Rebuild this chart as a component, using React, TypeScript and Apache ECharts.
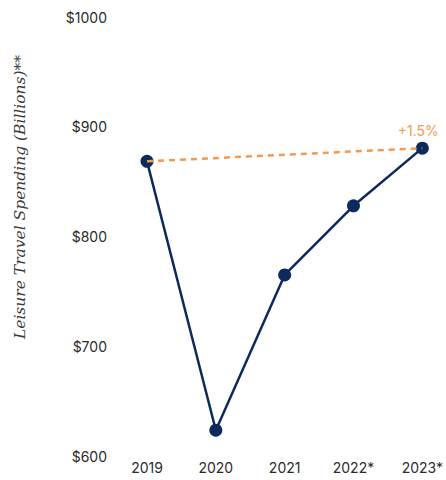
import React, { useEffect, useRef } from "react";
import * as echarts from "echarts";

const categories = ["2019", "2020", "2021", "2022*", "2023*"];
const spending = [868.5, 623.5, 765, 828, 880.5];
const trend = [868.5, null, null, null, 880.5];
const trendLabel = "+1.5%";
const yTicks = { min: 600, max: 1000, interval: 100 };
const yTitle = "Leisure Travel Spending (Billions)**";

export default function App() {
  const ref = useRef<HTMLDivElement>(null);
  useEffect(() => {
    const chart = echarts.init(ref.current!, null, { renderer: "svg" });
    chart.setOption({
      animation: false,
      grid: { left: 147, right: 19, top: 17, bottom: 24, containLabel: false },
      xAxis: {
        type: "category",
        data: categories,
        boundaryGap: false,
        axisLine: { show: false },
        axisTick: { show: false },
        splitLine: { show: false },
        axisLabel: { color: "#2b2b2b", fontSize: 14, fontFamily: "Inter", margin: 4 },
      },
      yAxis: {
        type: "value",
        min: yTicks.min,
        max: yTicks.max,
        interval: yTicks.interval,
        axisLine: { show: false },
        axisTick: { show: false },
        splitLine: { show: false },
        axisLabel: {
          color: "#2b2b2b",
          fontSize: 14,
          fontFamily: "Inter",
          margin: 40,
          formatter: (v: number) => "$" + v,
        },
      },
      graphic: [
        {
          type: "text",
          x: 20,
          y: 197,
          rotation: Math.PI / 2,
          style: {
            text: yTitle,
            font: "italic 15.5px 'DejaVu Serif', 'Liberation Serif', serif",
            fill: "#3a3a3a",
            align: "center",
            verticalAlign: "middle",
          },
        },
      ],
      series: [
        {
          type: "line",
          data: spending,
          symbol: "circle",
          symbolSize: 13,
          lineStyle: { color: "#0c2b5c", width: 2.5 },
          itemStyle: { color: "#0c2b5c" },
          z: 2,
        },
        {
          type: "line",
          data: trend,
          connectNulls: true,
          symbol: "circle",
          symbolSize: 0,
          showSymbol: true,
          itemStyle: { color: "#f5994e" },
          lineStyle: { color: "#f5994e", width: 2.5, type: [6, 5] },
          z: 3,
          label: {
            show: true,
            position: "top",
            distance: 11,
            offset: [-4, 0],
            color: "#f5994e",
            fontSize: 14,
            fontFamily: "Inter",
            formatter: (p: any) => (p.dataIndex === 4 ? trendLabel : ""),
          },
        },
      ],
    });
    return () => chart.dispose();
  }, []);
  return (
    <div
      ref={ref}
      style={{ position: "absolute", left: 0, top: 0, width: 446, height: 480, background: "#fff" }}
    />
  );
}
